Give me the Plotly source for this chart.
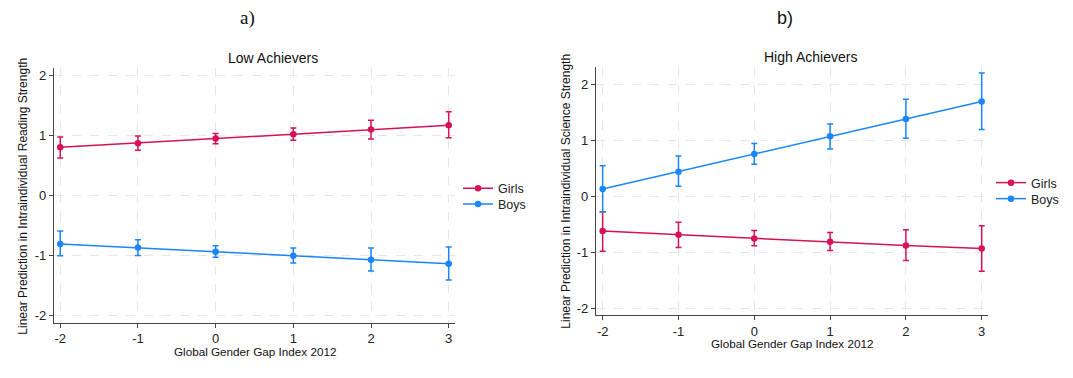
import plotly.graph_objects as go

x_vals = [-2, -1, 0, 1, 2, 3]
x_ticks = [-2, -1, 0, 1, 2, 3]
x_ticktext = ["-2", "-1", "0", "1", "2", "3"]
y_ticks = [-2, -1, 0, 1, 2]
y_ticktext = ["-2", "-1", "0", "1", "2"]

# Panel a) Low Achievers - Reading strength
low_girls = [0.80, 0.867, 0.945, 1.017, 1.095, 1.167]
low_girls_hi = [0.97, 0.99, 1.03, 1.12, 1.25, 1.39]
low_girls_lo = [0.62, 0.75, 0.857, 0.917, 0.94, 0.957]
low_boys = [-0.81, -0.87, -0.938, -1.005, -1.07, -1.138]
low_boys_hi = [-0.593, -0.74, -0.84, -0.877, -0.877, -0.86]
low_boys_lo = [-1.005, -1.0, -1.03, -1.127, -1.26, -1.41]

# Panel b) High Achievers - Science strength
high_girls = [-0.62, -0.685, -0.75, -0.81, -0.875, -0.929]
high_girls_hi = [-0.275, -0.464, -0.607, -0.643, -0.595, -0.524]
high_girls_lo = [-0.977, -0.911, -0.88, -0.964, -1.143, -1.333]
high_boys = [0.13, 0.44, 0.755, 1.07, 1.38, 1.69]
high_boys_hi = [0.547, 0.72, 0.94, 1.29, 1.73, 2.196]
high_boys_lo = [-0.275, 0.18, 0.57, 0.845, 1.036, 1.19]

RED = "#d41159"
BLUE = "#1a85ff"

# page body has an 8px margin; figure covers 8..1073 x 8..378 of the window
OFF = 8
W, H = 1073 - OFF, 378 - OFF


def px(X):
    return (X - OFF) / W


def py(Y):
    return 1 - (Y - OFF) / H


def err(mid, hi, lo, color):
    return dict(type="data", symmetric=False,
                array=[h - m for h, m in zip(hi, mid)],
                arrayminus=[m - l for m, l in zip(mid, lo)],
                color=color, thickness=1.5, width=3)


fig = go.Figure()

fig.add_trace(go.Scatter(x=x_vals, y=low_girls, name="Girls", mode="lines+markers",
                         line=dict(color=RED, width=1.5), marker=dict(color=RED, size=6.5),
                         error_y=err(low_girls, low_girls_hi, low_girls_lo, RED),
                         xaxis="x", yaxis="y", legend="legend", showlegend=True))
fig.add_trace(go.Scatter(x=x_vals, y=low_boys, name="Boys", mode="lines+markers",
                         line=dict(color=BLUE, width=1.5), marker=dict(color=BLUE, size=6.5),
                         error_y=err(low_boys, low_boys_hi, low_boys_lo, BLUE),
                         xaxis="x", yaxis="y", legend="legend2", showlegend=True))
fig.add_trace(go.Scatter(x=x_vals, y=high_girls, name="Girls", mode="lines+markers",
                         line=dict(color=RED, width=1.5), marker=dict(color=RED, size=6.5),
                         error_y=err(high_girls, high_girls_hi, high_girls_lo, RED),
                         xaxis="x2", yaxis="y2", legend="legend3", showlegend=True))
fig.add_trace(go.Scatter(x=x_vals, y=high_boys, name="Boys", mode="lines+markers",
                         line=dict(color=BLUE, width=1.5), marker=dict(color=BLUE, size=6.5),
                         error_y=err(high_boys, high_boys_hi, high_boys_lo, BLUE),
                         xaxis="x2", yaxis="y2", legend="legend4", showlegend=True))

axis_common = dict(showline=True, linecolor="#444444", linewidth=1.2, mirror=False,
                   ticks="outside", ticklen=4, tickcolor="#444444", tickwidth=1,
                   showgrid=True, gridcolor="#e6e6e6", griddash="dash", gridwidth=1,
                   zeroline=False, tickfont=dict(family="Liberation Sans, Arial", size=13, color="#222"))

legend_font = dict(family="Liberation Sans, Arial", size=12.5, color="#222")


def leg(X, Y):
    return dict(x=px(X), y=py(Y), xanchor="left", yanchor="top", font=legend_font,
                bgcolor="rgba(0,0,0,0)", tracegroupgap=0, itemwidth=30, visible=True)


fig.update_layout(
    width=W, height=H, margin=dict(l=0, r=0, t=0, b=0),
    paper_bgcolor="white", plot_bgcolor="white", showlegend=True,
    xaxis=dict(domain=[px(54), px(455.3)], range=[-2.08, 3.085], tickvals=x_ticks,
               ticktext=x_ticktext, anchor="y", **axis_common),
    yaxis=dict(domain=[py(322.7), py(68)], range=[-2.12, 2.12], tickvals=y_ticks,
               ticktext=y_ticktext, anchor="x", **axis_common),
    xaxis2=dict(domain=[px(596), px(988.3)], range=[-2.088, 3.087], tickvals=x_ticks,
                ticktext=x_ticktext, anchor="y2", **axis_common),
    yaxis2=dict(domain=[py(315.3), py(66.7)], range=[-2.12, 2.31], tickvals=y_ticks,
                ticktext=y_ticktext, anchor="x2", **axis_common),
    legend=leg(458, 173.7),
    legend2=leg(458, 189.3),
    legend3=leg(991, 168),
    legend4=leg(991, 184),
)

ann_font = dict(family="Liberation Sans, Arial", color="#111")
annotations = [
    dict(text="a)", x=px(247.7), y=py(18), font=dict(family="Liberation Serif, Times New Roman", size=19, color="#111")),
    dict(text="b)", x=px(784.7), y=py(18), font=dict(family="Liberation Sans, Arial", size=18, color="#111")),
    dict(text="Low Achievers", x=px(273), y=py(58), font=dict(size=14, **ann_font)),
    dict(text="High Achievers", x=px(810.7), y=py(57), font=dict(size=14, **ann_font)),
    dict(text="Global Gender Gap Index 2012", x=px(254.5), y=py(351), font=dict(size=11.7, **ann_font)),
    dict(text="Global Gender Gap Index 2012", x=px(792), y=py(343), font=dict(size=11.7, **ann_font)),
    dict(text="Linear Prediction in Intraindividual Reading Strength", x=px(22.7), y=py(196),
         textangle=-90, font=dict(size=12, **ann_font)),
    dict(text="Linear Prediction in Intraindividual Science Strength", x=px(565.7), y=py(191),
         textangle=-90, font=dict(size=12, **ann_font)),
]
for a in annotations:
    a.update(xref="paper", yref="paper", showarrow=False, xanchor="center", yanchor="middle")
fig.update_layout(annotations=annotations)

fig.write_html("out.html")
